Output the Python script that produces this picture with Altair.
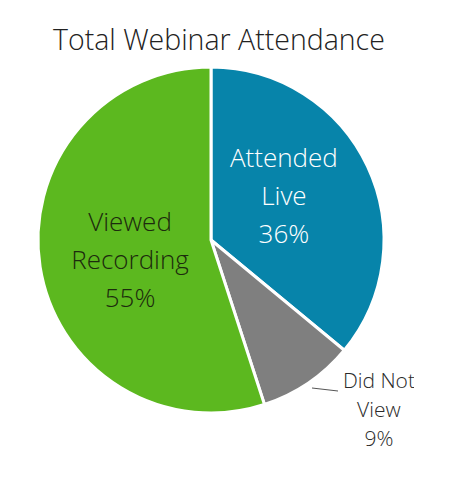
import altair as alt
import pandas as pd

title_text = "Total Webinar Attendance"
categories = ["Attended Live", "Did Not View", "Viewed Recording"]
label_lines = ["Attended\nLive", "Did Not\nView", "Viewed\nRecording"]
values = [36, 9, 55]
colors = ["#0784aa", "#7f7f7f", "#5cb81f"]

df = pd.DataFrame({
    "category": categories,
    "value": values,
    "idx": list(range(len(categories))),
    "label": [f"{l}\n{v}%" for l, v in zip(label_lines, values)],
})

FONT = "Open Sans"

arcs = alt.Chart(df).mark_arc(outerRadius=173, stroke="white", strokeWidth=3).encode(
    theta=alt.Theta("value:Q", stack=True),
    order=alt.Order("idx:Q"),
    color=alt.Color("category:N", scale=alt.Scale(domain=categories, range=colors), legend=None),
)

text_base = alt.Chart(df).transform_window(
    cum="sum(value)", sort=[alt.SortField("idx")], frame=[None, 0]
).transform_joinaggregate(
    total="sum(value)"
).transform_calculate(
    mid="(datum.cum - datum.value / 2) / datum.total"
)

def label(cat, radius, dx, dy, size, color, lh):
    return text_base.transform_filter(alt.datum.category == cat).mark_text(
        radius=radius, dx=dx, dy=dy, fontSize=size, font=FONT, fontWeight=300,
        color=color, lineBreak="\n", lineHeight=lh, align="center", baseline="middle"
    ).encode(
        theta=alt.Theta("mid:Q", stack=False, scale=alt.Scale(domain=[0, 1])),
        text="label:N",
    )

lab_live = label("Attended Live", 85, -4, -45, 26, "white", 38)
lab_rec = label("Viewed Recording", 83, 1, -30, 26, "#1c2b0d", 38)
lab_nv = label("Did Not View", 240, 33, -56, 21, "#2a2a2a", 29)

leader = alt.Chart(pd.DataFrame({"k": [0]})).mark_rule(color="#555555", strokeWidth=1).encode(
    x=alt.value(304), x2=alt.value(330), y=alt.value(380), y2=alt.value(383)
)

title = alt.Chart(pd.DataFrame({"t": [title_text]})).mark_text(
    font=FONT, fontSize=28.5, fontWeight=300, color="#222222", align="left", baseline="alphabetic"
).encode(x=alt.value(45), y=alt.value(42), text="t:N")

chart = alt.layer(arcs, lab_live, lab_rec, lab_nv, leader, title).resolve_scale(
    theta="independent"
).properties(
    width=406, height=464, autosize=alt.AutoSizeParams(type="none"), padding=0
).configure_view(stroke=None)

chart.save("out.html", embed_options={"renderer": "svg", "actions": False})
